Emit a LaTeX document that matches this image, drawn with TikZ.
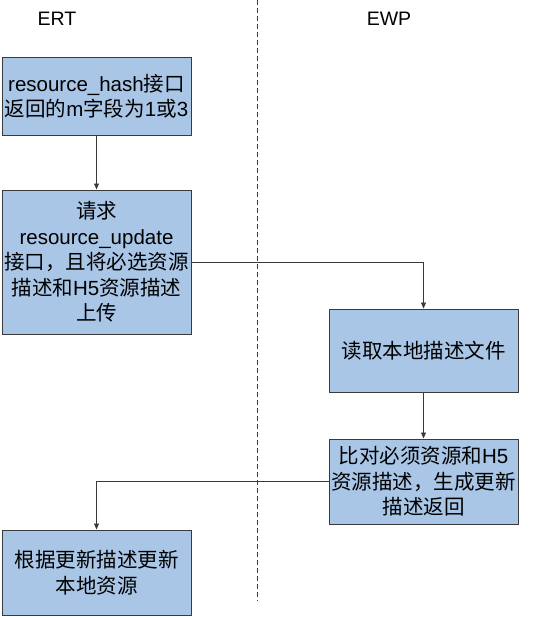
\documentclass[tikz,border=0pt]{standalone}
\usepackage{fontspec}
\setmainfont{Liberation Sans}
\newfontfamily\cjk{Noto Sans CJK SC}
\usetikzlibrary{arrows.meta}
\definecolor{boxblue}{HTML}{A9C6E7}
\definecolor{edgegray}{HTML}{3A3A3A}
\begin{document}
\begin{tikzpicture}[x=1pt,y=-1pt,
  stepbox/.style={draw=edgegray,line width=1pt,fill=boxblue,minimum width=189pt,inner sep=0pt,
    text width=189pt,align=center,font=\fontsize{20.5}{25.5}\selectfont},
  arr/.style={draw=edgegray,line width=0.9pt,-{Triangle[length=6pt,width=5pt]}},
  lane/.style={font=\fontsize{19.5}{23}\selectfont}]
\useasboundingbox (0,0) rectangle (540,618);
\node[lane] (ert) at (57,19) {ERT};
\node[lane] (ewp) at (389,19) {EWP};
\coordinate (dtop) at (257,0);
\coordinate (dbot) at (257,601);
\draw[edgegray,line width=0.8pt,dash pattern=on 5pt off 3pt] (dtop) -- (dbot);
\node[stepbox,minimum height=77pt] (b1) at (96.5,96.5)
  {resource\_hash{\cjk 接口}\\{\cjk 返回的}m{\cjk 字段为}1{\cjk 或}3};
\node[stepbox,minimum height=144pt] (b2) at (96.5,262)
  {{\cjk 请求}\\resource\_update\\{\cjk 接口，且将必选资源}\\{\cjk 描述和}H5{\cjk 资源描述}\\{\cjk 上传}};
\node[stepbox,minimum height=83pt] (b3) at (423.5,350.5)
  {{\cjk 读取本地描述文件}};
\node[stepbox,minimum height=85pt] (b4) at (423.5,481.5)
  {{\cjk 比对必须资源和}H5\\{\cjk 资源描述，生成更新}\\{\cjk 描述返回}};
\node[stepbox,minimum height=85pt] (b5) at (96.5,572.5)
  {{\cjk 根据更新描述更新}\\{\cjk 本地资源}};
\draw[arr] (b1) -- (b2);
\draw[arr] (b2.east) -| (b3.north);
\draw[arr] (b3) -- (b4);
\draw[arr] (b4.west) -| (b5.north);
\end{tikzpicture}
\end{document}
